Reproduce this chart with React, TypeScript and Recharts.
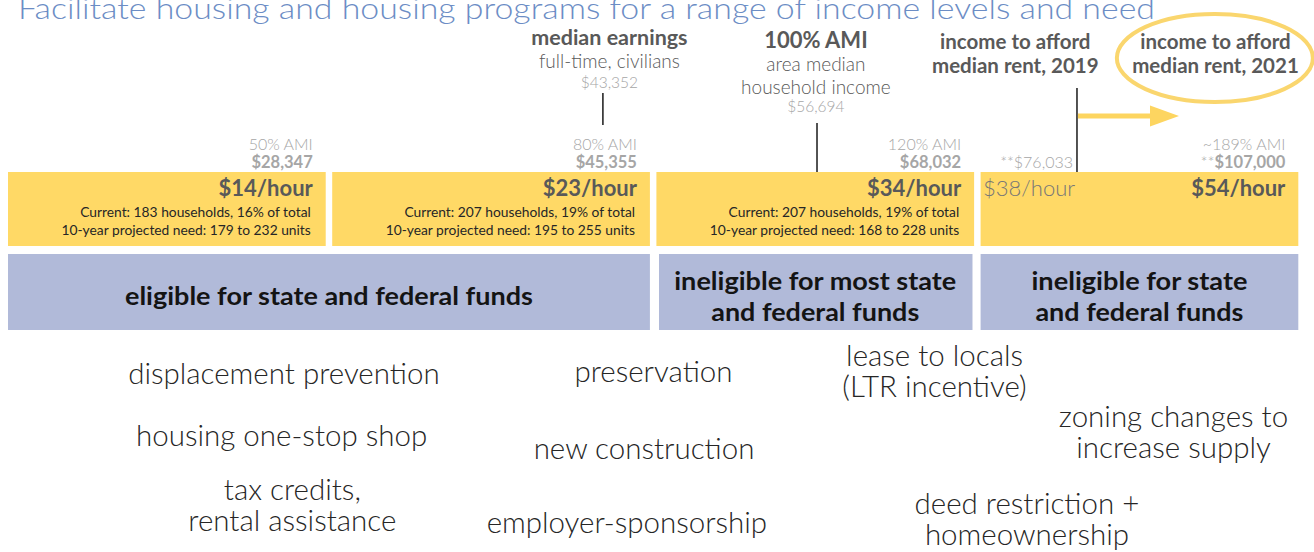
import { ComposedChart, XAxis, YAxis, ReferenceArea, ReferenceLine, Scatter } from 'recharts'

// canvas and scales: x is measured in income bands (one band per yellow box), y runs top to bottom
const W = 1314
const H = 552
const X_DOMAIN: [number, number] = [-0.0247, 4.0284]
const Y_DOMAIN: [number, number] = [0, H]
const GAP = 0.02

const FONT = 'Lato, "Open Sans", "DejaVu Sans", sans-serif'
const DARK = '#595959'
const GREY = '#a6a6a6'
const INK = '#262626'
const YELLOW = '#ffd966'
const BLUE = '#b1bad9'

// ---- data ----
const title = 'Facilitate housing and housing programs for a range of income levels and need'
const hourlyWage = ['$14/hour', '$23/hour', '$34/hour', '$54/hour']
const rent2019Wage = '$38/hour'
const households = [183, 207, 207]
const householdShare = [16, 19, 19]
const needLow = [179, 195, 168]
const needHigh = [232, 255, 228]
const amiLevels = ['50% AMI', '80% AMI', '120% AMI', '~189% AMI']
const amiIncome = ['$28,347', '$45,355', '$68,032', '$107,000']
const fundingGroups = [
  ['eligible for state and federal funds'],
  ['ineligible for most state', 'and federal funds'],
  ['ineligible for state', 'and federal funds'],
]
const fundingFrom = [0, 2, 3]
const fundingTo = [2, 3, 4]
const medianEarnings = ['median earnings', 'full-time, civilians', '$43,352']
const areaMedian = ['100% AMI', 'area median', 'household income', '$56,694']
const rentHeads = [
  ['income to afford', 'median rent, 2019'],
  ['income to afford', 'median rent, 2021'],
]
const rent2019Income = '**$76,033'
const strategies = [
  ['displacement prevention'],
  ['housing one-stop shop'],
  ['tax credits,', 'rental assistance'],
  ['preservation'],
  ['new construction'],
  ['employer-sponsorship'],
  ['lease to locals', '(LTR incentive)'],
  ['zoning changes to', 'increase supply'],
  ['deed restriction +', 'homeownership'],
]

// ---- layout ----
const YELLOW_ROW: [number, number] = [172, 246]
const BLUE_ROW: [number, number] = [254, 330]
const fundingWidths = [[408], [282, 208], [216, 208]]
const strategyX = [0.851, 0.844, 0.877, 1.991, 1.962, 1.909, 2.858, 3.595, 3.143]
const strategyY = [384, 446, 500, 382, 459, 533, 366, 427, 514]
const STRAT_LINE = 31
const MEDIAN_X = 1.855
const MEDIAN_LINE_X = 1.835
const AMI_X = 2.492
const AMI_LINE_X = 2.4954
const RENT_X = [3.107, 3.7246]
const RENT_LINE_X = 3.2973
const ARROW_TIP_X = 3.612

type Piece = { t: string; w: number }
type Style = { size: number; weight: number; color: string }
type Label = {
  x: number
  y: number
  text: string | Piece[]
  anchor: 'start' | 'middle' | 'end'
  length?: number
} & Style

const sTitle: Style = { size: 30, weight: 300, color: '#6c8dc5' }
const sHead: Style = { size: 20.5, weight: 700, color: DARK }
const sMedian: Style = { size: 21.5, weight: 700, color: DARK }
const sHeadBig: Style = { size: 22, weight: 700, color: DARK }
const sSub: Style = { size: 19, weight: 300, color: DARK }
const sNote: Style = { size: 15.5, weight: 300, color: GREY }
const sAmi: Style = { size: 16, weight: 300, color: GREY }
const sAmiVal: Style = { size: 16.5, weight: 700, color: GREY }
const sWage: Style = { size: 22, weight: 700, color: DARK }
const sWageLight: Style = { size: 22, weight: 300, color: '#777777' }
const sBox: Style = { size: 13.8, weight: 400, color: INK }
const sFund: Style = { size: 24, weight: 700, color: '#141414' }
const sStrat: Style = { size: 29.5, weight: 300, color: INK }

const lab = (
  x: number,
  y: number,
  text: string | Piece[],
  style: Style,
  anchor: Label['anchor'] = 'middle',
  length?: number,
): Label => ({ x, y, text, anchor, length, ...style })

const labels: Label[] = [
  lab(0.0308, 19, title, sTitle, 'start', 1137),
  lab(MEDIAN_X, 45, medianEarnings[0], sMedian),
  lab(MEDIAN_X, 68, medianEarnings[1], sSub),
  lab(MEDIAN_X, 88, medianEarnings[2], sNote),
  lab(AMI_X, 48, areaMedian[0], sHeadBig),
  lab(AMI_X, 71, areaMedian[1], sSub),
  lab(AMI_X, 94, areaMedian[2], sSub),
  lab(AMI_X, 112, areaMedian[3], sNote),
  ...rentHeads.flatMap((lines, i) => lines.map((t, j) => lab(RENT_X[i], 49 + j * 24, t, sHead))),
  ...amiLevels.map((t, i) => lab(i + 0.94, 150, t, sAmi, 'end')),
  ...amiIncome.map((t, i) =>
    lab(
      i + 0.94,
      168,
      i === 3 ? [{ t: '**', w: 300 }, { t, w: 700 }] : t,
      sAmiVal,
      'end',
    ),
  ),
  lab(3.285, 168, rent2019Income, sAmi, 'end'),
  ...hourlyWage.map((t, i) => lab(i + 0.94, 196, t, sWage, 'end')),
  lab(3.0074, 196, rent2019Wage, sWageLight, 'start'),
  ...households.map((n, i) =>
    lab(i + 0.934, 217, `Current: ${n} households, ${householdShare[i]}% of total`, sBox, 'end'),
  ),
  ...needLow.map((n, i) =>
    lab(i + 0.934, 235, `10-year projected need: ${n} to ${needHigh[i]} units`, sBox, 'end'),
  ),
  ...fundingGroups.flatMap((lines, i) => {
    const cx = (fundingFrom[i] + fundingTo[i] - GAP) / 2
    const top = lines.length === 1 ? 305 : 290
    return lines.map((t, j) => lab(cx, top + j * 31, t, sFund, 'middle', fundingWidths[i][j]))
  }),
  ...strategies.flatMap((lines, i) =>
    lines.map((t, j) => lab(strategyX[i], strategyY[i] + j * STRAT_LINE, t, sStrat)),
  ),
]

function TextMark(props: any) {
  const { cx, cy, payload } = props
  const d = payload as Label
  const pieces: Piece[] = typeof d.text === 'string' ? [{ t: d.text, w: d.weight }] : d.text
  return (
    <text
      x={cx}
      y={cy}
      textAnchor={d.anchor}
      fontFamily={FONT}
      fontSize={d.size}
      fill={d.color}
      textLength={d.length}
      lengthAdjust={d.length ? 'spacingAndGlyphs' : undefined}
    >
      {pieces.map((p, i) => (
        <tspan key={i} fontWeight={p.w}>
          {p.t}
        </tspan>
      ))}
    </text>
  )
}

function EllipseMark(props: any) {
  const { cx, cy } = props
  return <ellipse cx={cx} cy={cy} rx={98} ry={44} fill="none" stroke="#fad66e" strokeWidth={4} />
}

function ArrowHead(props: any) {
  const { cx, cy } = props
  return <polygon points={`${cx},${cy} ${cx - 29},${cy - 10.5} ${cx - 29},${cy + 10.5}`} fill="#fdd560" />
}

export default function App() {
  return (
    <div
      style={{
        position: 'fixed',
        left: 0,
        top: 0,
        width: W,
        height: H,
        background: '#fff',
        overflow: 'hidden',
      }}
    >
      <ComposedChart width={W} height={H} margin={{ top: 0, right: 0, bottom: 0, left: 0 }}>
        <XAxis type="number" dataKey="x" domain={X_DOMAIN} allowDataOverflow hide />
        <YAxis type="number" dataKey="y" domain={Y_DOMAIN} reversed allowDataOverflow hide />

        {hourlyWage.map((_, i) => (
          <ReferenceArea
            key={`y${i}`}
            x1={i}
            x2={i + 1 - GAP}
            y1={YELLOW_ROW[0]}
            y2={YELLOW_ROW[1]}
            fill={YELLOW}
            fillOpacity={1}
            stroke="none"
            ifOverflow="visible"
          />
        ))}
        {fundingGroups.map((_, i) => (
          <ReferenceArea
            key={`b${i}`}
            x1={fundingFrom[i] + (i === 1 ? 0.008 : 0)}
            x2={fundingTo[i] - GAP - (i === 1 ? 0.005 : 0)}
            y1={BLUE_ROW[0]}
            y2={BLUE_ROW[1]}
            fill={BLUE}
            fillOpacity={1}
            stroke="none"
            ifOverflow="visible"
          />
        ))}

        <ReferenceLine
          segment={[{ x: MEDIAN_LINE_X, y: 93 }, { x: MEDIAN_LINE_X, y: 125 }]}
          stroke="#1a1a1a"
          strokeWidth={1.5}
          ifOverflow="visible"
        />
        <ReferenceLine
          segment={[{ x: AMI_LINE_X, y: 123 }, { x: AMI_LINE_X, y: YELLOW_ROW[0] }]}
          stroke="#1a1a1a"
          strokeWidth={1.5}
          ifOverflow="visible"
        />
        <ReferenceLine
          segment={[{ x: RENT_LINE_X, y: 88 }, { x: RENT_LINE_X, y: YELLOW_ROW[0] }]}
          stroke="#1a1a1a"
          strokeWidth={1.5}
          ifOverflow="visible"
        />
        <ReferenceLine
          segment={[{ x: RENT_LINE_X + 0.003, y: 116 }, { x: ARROW_TIP_X - 0.08, y: 116 }]}
          stroke="#fdd560"
          strokeWidth={5}
          ifOverflow="visible"
        />

        <Scatter
          data={[{ x: ARROW_TIP_X, y: 116 }]}
          shape={ArrowHead}
          isAnimationActive={false}
        />
        <Scatter
          data={[{ x: RENT_X[1] - 0.002, y: 58 }]}
          shape={EllipseMark}
          isAnimationActive={false}
        />
        <Scatter data={labels} shape={TextMark} isAnimationActive={false} />
      </ComposedChart>
    </div>
  )
}
